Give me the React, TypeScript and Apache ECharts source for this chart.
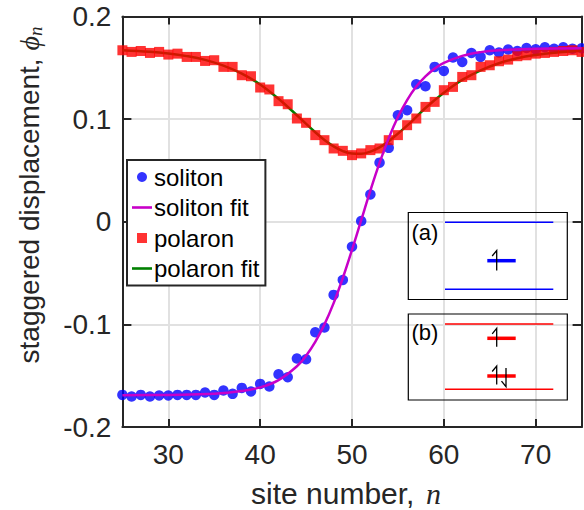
import React, { useEffect, useRef } from "react";
import * as echarts from "echarts";

const sites = [25, 26, 27, 28, 29, 30, 31, 32, 33, 34, 35, 36, 37, 38, 39, 40, 41, 42, 43, 44, 45, 46, 47, 48, 49, 50, 51, 52, 53, 54, 55, 56, 57, 58, 59, 60, 61, 62, 63, 64, 65, 66, 67, 68, 69, 70, 71, 72, 73, 74, 75];

const solitonValues = [
  -0.1687, -0.1703, -0.1687, -0.1703, -0.1693, -0.1693, -0.1687, -0.1687, -0.1687, -0.1664,
  -0.1687, -0.1645, -0.1677, -0.1619, -0.1654, -0.158, -0.1606, -0.1486, -0.1515, -0.1333,
  -0.134, -0.1077, -0.1031, -0.0713, -0.0567, -0.0243, 0.0007, 0.0266, 0.0576, 0.072,
  0.1038, 0.1087, 0.134, 0.132, 0.1509, 0.147, 0.16, 0.1557, 0.1645, 0.1606,
  0.1671, 0.1649, 0.1678, 0.1664, 0.1693, 0.168, 0.17, 0.1685, 0.17, 0.1685, 0.169,
];

const polaronValues = [
  0.1671, 0.1655, 0.1664, 0.1645, 0.1655, 0.1629, 0.1638, 0.1606, 0.1606, 0.1567,
  0.1574, 0.1509, 0.1509, 0.1428, 0.1418, 0.1308, 0.1289, 0.1175, 0.1145, 0.1006,
  0.0964, 0.0844, 0.0795, 0.0714, 0.0691, 0.0649, 0.0666, 0.0698, 0.0714, 0.0795,
  0.0844, 0.0941, 0.1006, 0.1119, 0.1168, 0.1282, 0.1314, 0.1411, 0.1428, 0.1509,
  0.1525, 0.1564, 0.158, 0.1613, 0.1622, 0.1638, 0.1645, 0.1655, 0.1664, 0.1671, 0.1655,
];

const solitonFitSites = [25, 30, 35, 38, 40, 42, 44, 45, 46, 47, 48, 49, 50, 51, 52, 53, 54, 55, 56, 57, 58, 59, 60, 62, 64, 66, 70, 75];
const solitonFitValues = [
  -0.169, -0.1687, -0.1677, -0.165, -0.1614, -0.1543, -0.1408, -0.1305, -0.117, -0.1,
  -0.0793, -0.0548, -0.0274, 0.0015, 0.0303, 0.0573, 0.0815, 0.102, 0.1186, 0.1317,
  0.1417, 0.1492, 0.1547, 0.1616, 0.1653, 0.1671, 0.1685, 0.169,
];

const polaronFitSites = [25, 28, 30, 32, 34, 36, 38, 40, 42, 44, 46, 47, 48, 49, 50, 51, 52, 53, 54, 56, 58, 60, 62, 64, 66, 68, 70, 72, 75];
const polaronFitValues = [
  0.1672, 0.1657, 0.164, 0.1614, 0.1577, 0.1521, 0.1443, 0.1338, 0.1198, 0.1038,
  0.0872, 0.0797, 0.0735, 0.0689, 0.0664, 0.0662, 0.0683, 0.0724, 0.0784, 0.0936,
  0.1108, 0.1257, 0.1382, 0.1476, 0.1545, 0.1593, 0.1625, 0.1647, 0.1667,
];

const xTickLabels = [30, 40, 50, 60, 70];
const yTickLabels = ["-0.2", "-0.1", "0", "0.1", "0.2"];

const seriesNames = ["soliton", "soliton fit", "polaron", "polaron fit"];

const zip = (xs: number[], ys: number[]) => xs.map((x, i) => [x, ys[i]]);

const AX = "#262626";
const GRID = "#e1e1e1";
const SANS = "Liberation Sans, Arial, Helvetica, sans-serif";
const SERIF = "Liberation Serif, DejaVu Serif, serif";
const LINE_ICON = "path://M0,0H20V2.6H0Z";

export default function App() {
  const ref = useRef<HTMLDivElement>(null);

  useEffect(() => {
    if (!ref.current) return;
    const chart = echarts.init(ref.current, null, { renderer: "svg" });

    const line = (x1: number, y1: number, x2: number, y2: number, color: string, w: number) => ({
      type: "line",
      shape: { x1, y1, x2, y2 },
      style: { stroke: color, lineWidth: w },
      z: 100,
    });
    const harpoon = (x: number, yTop: number, yBot: number, up: boolean) => ({
      type: "polyline",
      shape: {
        points: up
          ? [[x - 4.5, yTop + 5.5], [x, yTop], [x, yBot]]
          : [[x, yTop], [x, yBot], [x - 4.5, yBot - 5.5]],
      },
      style: { stroke: "#000", lineWidth: 1.3, fill: null },
      z: 101,
    });

    const yFromLabel = (v: number) => {
      const s = Math.abs(v) < 1e-9 ? "0" : v.toFixed(1);
      return yTickLabels.includes(s) ? s : "";
    };

    const xAxisBase = {
      type: "value",
      min: 25,
      max: 75,
      splitNumber: 5,
      axisLine: { show: true, onZero: false, lineStyle: { color: AX, width: 2 } },
      axisTick: { show: true, inside: true, length: 8, lineStyle: { color: AX, width: 2 } },
    };
    const yAxisBase = {
      type: "value",
      min: -0.2,
      max: 0.2,
      interval: 0.1,
      axisLine: { show: true, onZero: false, lineStyle: { color: AX, width: 2 } },
      axisTick: { show: true, inside: true, length: 9, lineStyle: { color: AX, width: 2 } },
    };

    chart.setOption({
      animation: false,
      backgroundColor: "#fff",
      grid: { left: 122.4, right: 2.4, top: 16.5, bottom: 83, containLabel: false },
      legend: {
        orient: "vertical",
        left: 127,
        top: 160,
        backgroundColor: "#fff",
        borderColor: AX,
        borderWidth: 2,
        borderRadius: 0,
        padding: [5, 6, 5, 5],
        itemWidth: 20,
        itemHeight: 10,
        itemGap: 6.5,
        textStyle: { fontSize: 24, color: "#000", fontFamily: SANS, lineHeight: 24, padding: [0, 0, 0, -3] },
        data: [
          { name: seriesNames[0], icon: "circle" },
          { name: seriesNames[1], icon: LINE_ICON },
          { name: seriesNames[2], icon: "path://M0,0H10V10H0Z" },
          { name: seriesNames[3], icon: LINE_ICON },
        ],
        z: 50,
      },
      xAxis: [
        {
          ...xAxisBase,
          position: "bottom",
          axisLabel: {
            show: true,
            showMinLabel: false,
            showMaxLabel: false,
            margin: 13,
            fontSize: 28,
            color: AX,
            fontFamily: SANS,
            formatter: (v: number) => (xTickLabels.includes(v) ? String(v) : ""),
          },
          splitLine: { show: true, lineStyle: { color: GRID, width: 2 } },
        },
        {
          ...xAxisBase,
          position: "top",
          axisLabel: { show: false },
          splitLine: { show: false },
        },
      ],
      yAxis: [
        {
          ...yAxisBase,
          position: "left",
          axisLabel: { margin: 11, fontSize: 28, color: AX, fontFamily: SANS, formatter: yFromLabel },
          splitLine: { show: true, lineStyle: { color: GRID, width: 2 } },
        },
        {
          ...yAxisBase,
          position: "right",
          axisLabel: { show: false },
          splitLine: { show: false },
        },
      ],
      series: [
        {
          name: seriesNames[0],
          type: "scatter",
          data: zip(sites, solitonValues),
          symbol: "circle",
          symbolSize: 10.5,
          itemStyle: { color: "#0000ff" },
          clip: false,
          z: 2,
        },
        {
          name: seriesNames[1],
          type: "line",
          data: zip(solitonFitSites, solitonFitValues),
          smooth: 0.4,
          symbol: "none",
          lineStyle: { color: "#c800c8", width: 2.5 },
          itemStyle: { color: "#c800c8" },
          z: 5,
        },
        {
          name: seriesNames[2],
          type: "scatter",
          data: zip(sites, polaronValues),
          symbol: "rect",
          symbolSize: 10,
          itemStyle: { color: "#ff0000" },
          clip: false,
          z: 4,
        },
        {
          name: seriesNames[3],
          type: "line",
          data: zip(polaronFitSites, polaronFitValues),
          smooth: 0.4,
          symbol: "none",
          lineStyle: { color: "#008000", width: 2.5 },
          itemStyle: { color: "#008000" },
          z: 3,
        },
      ],
      graphic: [
        {
          type: "text",
          x: 251,
          y: 493,
          style: { text: "site number,", fontSize: 30, lineHeight: 26, fontFamily: SANS, fill: AX, align: "left", verticalAlign: "middle" },
        },
        {
          type: "text",
          x: 426,
          y: 493,
          style: { text: "n", fontSize: 30, lineHeight: 26, fontFamily: SERIF, fontStyle: "italic", fill: AX, align: "left", verticalAlign: "middle" },
        },
        {
          type: "text",
          x: 29,
          y: 195,
          rotation: Math.PI / 2,
          style: {
            text: "{a|staggered displacement, }{p|ϕ}{s|n}",
            align: "center",
            verticalAlign: "middle",
            rich: {
              a: { fontSize: 28, fontFamily: SANS, fill: AX, color: AX },
              p: { fontSize: 28, fontFamily: SERIF, fontStyle: "italic", fill: AX, color: AX },
              s: { fontSize: 19, fontFamily: SERIF, fontStyle: "italic", fill: AX, color: AX, padding: [12, 0, 0, 0] },
            },
          },
        },
        // inset (a)
        {
          type: "rect",
          shape: { x: 408.3, y: 212.5, width: 159, height: 87 },
          style: { stroke: "#000", lineWidth: 1.2, fill: null },
          z: 100,
        },
        {
          type: "text",
          x: 411.5,
          y: 232,
          style: { text: "(a)", fontSize: 22, fontFamily: SANS, fill: "#000", align: "left", verticalAlign: "middle" },
          z: 100,
        },
        line(445, 222.3, 553.3, 222.3, "#0000ff", 1.4),
        line(445, 289.3, 553.3, 289.3, "#0000ff", 1.4),
        line(487.3, 260.7, 515.7, 260.7, "#0000ff", 3.5),
        harpoon(496.7, 250.5, 270.5, true),
        // inset (b)
        {
          type: "rect",
          shape: { x: 408.3, y: 314, width: 159, height: 86 },
          style: { stroke: "#000", lineWidth: 1.2, fill: null },
          z: 100,
        },
        {
          type: "text",
          x: 411.5,
          y: 332,
          style: { text: "(b)", fontSize: 22, fontFamily: SANS, fill: "#000", align: "left", verticalAlign: "middle" },
          z: 100,
        },
        line(445, 324, 553.3, 324, "#ff0000", 1.4),
        line(445, 389.3, 553.3, 389.3, "#ff0000", 1.4),
        line(487.3, 338.3, 515.7, 338.3, "#ff0000", 3.5),
        line(487.3, 376, 515.7, 376, "#ff0000", 3.5),
        harpoon(496.7, 328.3, 346.7, true),
        harpoon(496.7, 366, 384.5, true),
        harpoon(506, 368, 386.7, false),
      ],
    });

    return () => chart.dispose();
  }, []);

  return (
    <div
      ref={ref}
      style={{ position: "fixed", left: 0, top: 0, width: 584, height: 510, background: "#fff" }}
    />
  );
}
